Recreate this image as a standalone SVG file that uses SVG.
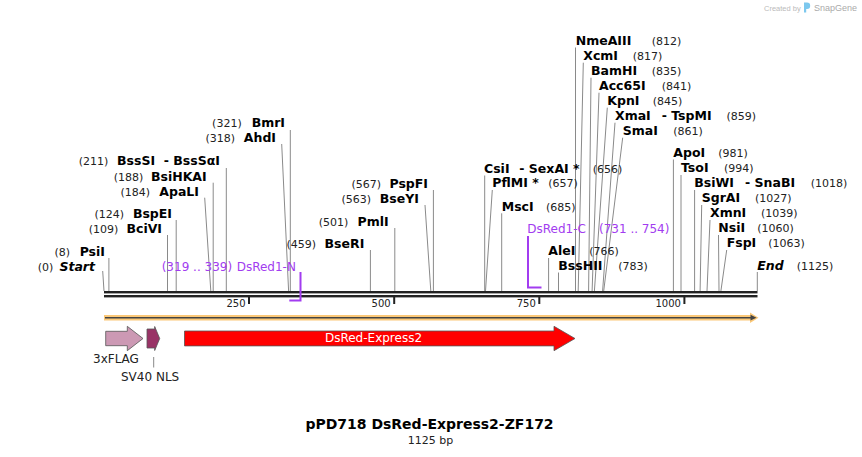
<svg xmlns="http://www.w3.org/2000/svg" width="862" height="457" viewBox="0 0 862 457">
<style>
text{font-family:"DejaVu Sans",Verdana,sans-serif}
.n{font-size:12.5px;font-weight:bold;fill:#000}
.i{font-style:italic}
.c{font-size:11px;fill:#222}
.e{text-anchor:end}
.ld{stroke:#8a8a8a;stroke-width:1;fill:none}
.p{font-size:12px;fill:#a23cf0}
.pb{stroke:#a23cf0;stroke-width:2;fill:none}
.tk{font-size:10px;fill:#222;text-anchor:end}
.fl{font-size:12px;fill:#222}
.ft{stroke:#555;stroke-width:0.8}
</style>
<rect width="862" height="457" fill="#fff"/>

<g id="watermark">
<text x="764" y="10.5" style="font-family:'Liberation Sans',Arial,sans-serif;font-size:7.5px;fill:#bbb">Created by</text>
<path d="M804,2.5 h3 a3.2,3.2 0 0 1 0,6.4 h-0.8 v3.6 h-2.2 z" fill="#7cc8ee"/>
<text x="814" y="10.5" style="font-family:'Liberation Sans',Arial,sans-serif;font-size:9px;fill:#aaa">SnapGene</text>
</g>

<g id="connectors">
<line class="ld" x1="102.7" y1="271" x2="104" y2="291"/>
<line class="ld" x1="108.9" y1="258" x2="108.9" y2="291"/>
<line class="ld" x1="167.5" y1="235" x2="167.5" y2="291"/>
<line class="ld" x1="176.2" y1="220" x2="176.2" y2="291"/>
<line class="ld" x1="204.7" y1="197.7" x2="210.8" y2="291"/>
<line class="ld" x1="213.2" y1="182.7" x2="213.2" y2="291"/>
<line class="ld" x1="226.3" y1="168" x2="226.3" y2="291"/>
<line class="ld" x1="281.7" y1="144" x2="288.6" y2="291"/>
<line class="ld" x1="290.3" y1="130" x2="290.3" y2="291"/>
<line class="ld" x1="370.4" y1="250" x2="370.4" y2="291"/>
<line class="ld" x1="394.8" y1="228" x2="394.8" y2="291"/>
<line class="ld" x1="425" y1="205" x2="430.8" y2="291"/>
<line class="ld" x1="433.4" y1="190" x2="433.4" y2="291"/>
<line class="ld" x1="484.7" y1="175.5" x2="484.7" y2="291"/>
<line class="ld" x1="492.3" y1="190" x2="485.5" y2="291"/>
<line class="ld" x1="501.7" y1="213.3" x2="501.7" y2="291"/>
<line class="ld" x1="548.6" y1="258" x2="548.6" y2="291"/>
<line class="ld" x1="558.5" y1="272.5" x2="558.5" y2="291"/>
<line class="ld" x1="575.5" y1="47.5" x2="575.5" y2="291"/>
<line class="ld" x1="583.3" y1="62.7" x2="578.2" y2="291"/>
<line class="ld" x1="591" y1="77.7" x2="588.6" y2="291"/>
<line class="ld" x1="599" y1="92.7" x2="592.1" y2="291"/>
<line class="ld" x1="607.3" y1="107.7" x2="594.4" y2="291"/>
<line class="ld" x1="615" y1="122.7" x2="602.6" y2="291"/>
<line class="ld" x1="622.7" y1="137.7" x2="603.7" y2="291"/>
<line class="ld" x1="673.4" y1="159.5" x2="673.4" y2="291"/>
<line class="ld" x1="681" y1="175" x2="681" y2="291"/>
<line class="ld" x1="694.6" y1="190" x2="694.6" y2="291"/>
<line class="ld" x1="701.7" y1="205" x2="700.1" y2="291"/>
<line class="ld" x1="710" y1="220" x2="707" y2="291"/>
<line class="ld" x1="718.5" y1="235" x2="719" y2="291"/>
<line class="ld" x1="726.7" y1="250" x2="720.9" y2="291"/>
<line class="ld" x1="757.3" y1="272" x2="757.3" y2="291"/>
</g>

<g id="backbone">
<rect x="104" y="291" width="653.5" height="2.4" fill="#222"/>
<rect x="104" y="295" width="653.5" height="2.4" fill="#222"/>
<rect x="248" y="297" width="2" height="7" fill="#222"/>
<rect x="393.2" y="297" width="2" height="7" fill="#222"/>
<rect x="538.3" y="297" width="2" height="7" fill="#222"/>
<rect x="683.4" y="297" width="2" height="7" fill="#222"/>
<text class="tk" x="245.5" y="307.3">250</text>
<text class="tk" x="390.7" y="307.3">500</text>
<text class="tk" x="535.8" y="307.3">750</text>
<text class="tk" x="680.9" y="307.3">1000</text>
</g>

<g id="orf">
<polygon points="104,315 750,315 750,312.5 758.5,317.7 750,323 750,320.5 104,320.5" fill="#fbc878"/>
<line x1="105" y1="317.7" x2="751" y2="317.7" stroke="#444" stroke-width="1.5"/>
<polygon points="750.5,314.8 756.5,317.7 750.5,320.6" fill="#444"/>
</g>

<g id="feature-3xFLAG">
<polygon class="ft" points="105.7,331.3 127.3,331.3 127.3,326.3 143,338.5 127.3,350.7 127.3,345.7 105.7,345.7" fill="#cc99b4"/>
<text class="fl" x="93" y="363">3xFLAG</text>
</g>
<g id="feature-SV40NLS">
<polygon class="ft" points="147,329 154.7,329 154.7,326.5 159.7,338.5 154.7,350.5 154.7,348 147,348" fill="#993366"/>
<line x1="153.7" y1="357" x2="153.7" y2="367.5" stroke="#888" stroke-width="1"/>
<text class="fl" x="121" y="381">SV40 NLS</text>
</g>
<g id="feature-DsRed-Express2">
<polygon class="ft" points="184.5,331 554,331 554,326.3 575,338.5 554,350.7 554,345.9 184.5,345.9" fill="#ff0000"/>
<text x="373.5" y="342.3" style="font-size:12px;fill:#fff;text-anchor:middle">DsRed-Express2</text>
</g>

<g id="primer-DsRed1-N">
<polyline class="pb" points="300.5,272 300.5,300.5 289.3,300.5"/>
<text class="p" x="161.7" y="271">(319 .. 339)</text>
<text class="p" x="236.7" y="271">DsRed1-N</text>
</g>
<g id="primer-DsRed1-C">
<polyline class="pb" points="528,236 528,287.5 541.5,287.5"/>
<text class="p" x="527.3" y="232.7">DsRed1-C</text>
<text class="p" x="599" y="232.7">(731 .. 754)</text>
</g>

<g id="site-Start"><text class="c e" x="53.3" y="271">(0)</text><text class="n i e" x="95" y="271">Start</text></g>
<g id="site-PsiI"><text class="c e" x="70" y="256">(8)</text><text class="n e" x="105" y="256">PsiI</text></g>
<g id="site-BciVI"><text class="c e" x="118.3" y="233">(109)</text><text class="n e" x="162" y="233">BciVI</text></g>
<g id="site-BspEI"><text class="c e" x="124" y="218">(124)</text><text class="n e" x="172" y="218">BspEI</text></g>
<g id="site-ApaLI"><text class="c e" x="150" y="195.7">(184)</text><text class="n e" x="199" y="195.7">ApaLI</text></g>
<g id="site-BsiHKAI"><text class="c e" x="143.3" y="180.7">(188)</text><text class="n e" x="206.7" y="180.7">BsiHKAI</text></g>
<g id="site-BssSI"><text class="c e" x="108.3" y="165">(211)</text><text class="n" x="117" y="165">BssSI</text><text class="n e" x="220" y="165">- BssSαI</text></g>
<g id="site-AhdI"><text class="c e" x="235" y="142.3">(318)</text><text class="n e" x="276" y="142.3">AhdI</text></g>
<g id="site-BmrI"><text class="c e" x="241.7" y="127.3">(321)</text><text class="n e" x="285" y="127.3">BmrI</text></g>
<g id="site-BseRI"><text class="c e" x="316" y="248">(459)</text><text class="n e" x="364.3" y="248">BseRI</text></g>
<g id="site-PmlI"><text class="c e" x="348.3" y="226">(501)</text><text class="n e" x="388.7" y="226">PmlI</text></g>
<g id="site-BseYI"><text class="c e" x="371" y="202.7">(563)</text><text class="n e" x="419" y="202.7">BseYI</text></g>
<g id="site-PspFI"><text class="c e" x="381" y="187.7">(567)</text><text class="n e" x="428" y="187.7">PspFI</text></g>

<g id="site-CsiI"><text class="n" x="484" y="172.7">CsiI</text><text class="n" x="519.3" y="172.7">- SexAI *</text><text class="c" x="592.7" y="172.7">(656)</text></g>
<g id="site-PflMI"><text class="n" x="492.3" y="187.3">PflMI *</text><text class="c" x="548.3" y="187.3">(657)</text></g>
<g id="site-MscI"><text class="n" x="501.7" y="210.7">MscI</text><text class="c" x="546" y="210.7">(685)</text></g>
<g id="site-AleI"><text class="n" x="548.3" y="255">AleI</text><text class="c" x="589.3" y="255">(766)</text></g>
<g id="site-BssHII"><text class="n" x="558.3" y="270">BssHII</text><text class="c" x="618.3" y="270">(783)</text></g>
<g id="site-NmeAIII"><text class="n" x="575.7" y="45">NmeAIII</text><text class="c" x="651.7" y="45">(812)</text></g>
<g id="site-XcmI"><text class="n" x="583.3" y="60">XcmI</text><text class="c" x="632.7" y="60">(817)</text></g>
<g id="site-BamHI"><text class="n" x="591" y="75">BamHI</text><text class="c" x="651.7" y="75">(835)</text></g>
<g id="site-Acc65I"><text class="n" x="599" y="90">Acc65I</text><text class="c" x="661.7" y="90">(841)</text></g>
<g id="site-KpnI"><text class="n" x="607.3" y="105">KpnI</text><text class="c" x="652.7" y="105">(845)</text></g>
<g id="site-XmaI"><text class="n" x="615" y="120">XmaI</text><text class="n" x="661.7" y="120">- TspMI</text><text class="c" x="726.5" y="120">(859)</text></g>
<g id="site-SmaI"><text class="n" x="622.7" y="135">SmaI</text><text class="c" x="673.3" y="135">(861)</text></g>
<g id="site-ApoI"><text class="n" x="673.3" y="157.3">ApoI</text><text class="c" x="718.3" y="157.3">(981)</text></g>
<g id="site-TsoI"><text class="n" x="681" y="172.3">TsoI</text><text class="c" x="724" y="172.3">(994)</text></g>
<g id="site-BsiWI"><text class="n" x="694.3" y="187.3">BsiWI</text><text class="n" x="745" y="187.3">- SnaBI</text><text class="c" x="810.7" y="187.3">(1018)</text></g>
<g id="site-SgrAI"><text class="n" x="701.7" y="202.3">SgrAI</text><text class="c" x="755" y="202.3">(1027)</text></g>
<g id="site-XmnI"><text class="n" x="710" y="217.3">XmnI</text><text class="c" x="761" y="217.3">(1039)</text></g>
<g id="site-NsiI"><text class="n" x="718.3" y="232.3">NsiI</text><text class="c" x="757.3" y="232.3">(1060)</text></g>
<g id="site-FspI"><text class="n" x="726.7" y="247.3">FspI</text><text class="c" x="768.3" y="247.3">(1063)</text></g>
<g id="site-End"><text class="n i" x="757.3" y="270">End</text><text class="c" x="796.7" y="270">(1125)</text></g>

<g id="title">
<text x="429.5" y="429" style="font-size:14px;font-weight:bold;fill:#000;text-anchor:middle">pPD718 DsRed-Express2-ZF172</text>
<text x="430.5" y="444.3" style="font-size:11px;fill:#222;text-anchor:middle">1125 bp</text>
</g>
</svg>
